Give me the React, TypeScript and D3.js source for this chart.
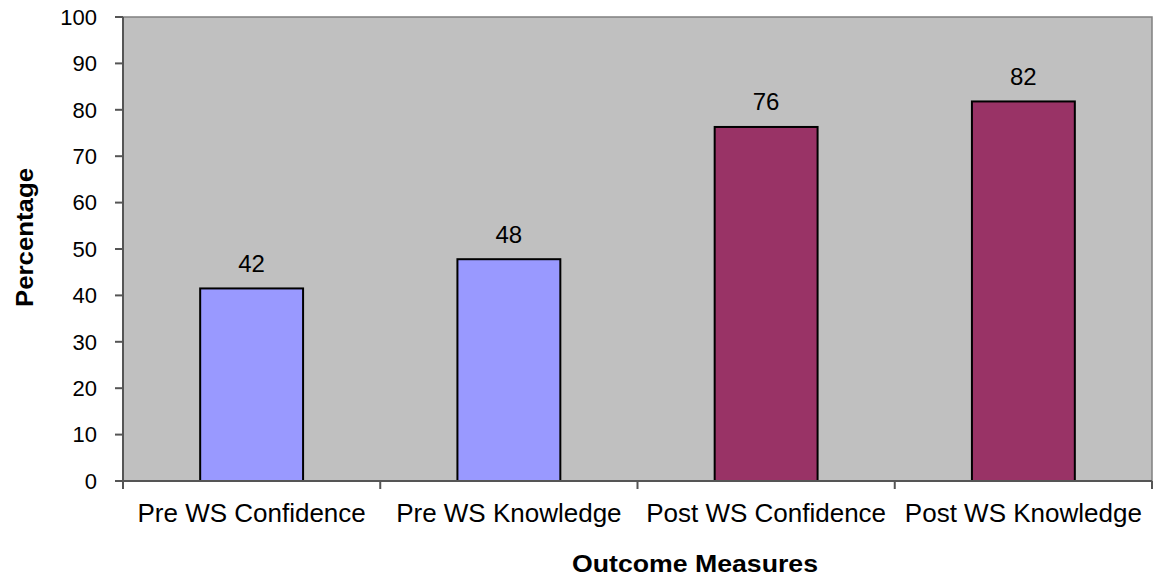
import React from "react";
import * as d3 from "d3";

const categories = ["Pre WS Confidence", "Pre WS Knowledge", "Post WS Confidence", "Post WS Knowledge"];
const values = [41.5, 47.8, 76.3, 81.8];
const barColors = ["#9999ff", "#9999ff", "#993366", "#993366"];
const yTicks = [0, 10, 20, 30, 40, 50, 60, 70, 80, 90, 100];

const W = 1154, H = 577;
const m = { left: 123, right: 2, top: 17, bottom: 96 };

export default function App() {
  const x = d3.scaleBand<string>().domain(categories).range([m.left, W - m.right]).paddingInner(0).paddingOuter(0);
  const y = d3.scaleLinear().domain([0, 100]).range([H - m.bottom, m.top]);
  const bw = x.bandwidth() * 0.4;
  const font = "'Liberation Sans', Arial, sans-serif";
  const y0 = y(0);
  const bounds = [...categories.map((c) => x(c)!), W - m.right];
  return (
    <svg width={W} height={H} style={{ position: "absolute", left: 0, top: 0 }} fontFamily={font}>
      <rect x={m.left} y={m.top} width={W - m.right - m.left} height={y0 - m.top} fill="#c0c0c0" stroke="#808080" strokeWidth={1.5} />
      {categories.map((c, i) => {
        const cx = x(c)! + x.bandwidth() / 2;
        return (
          <g key={c}>
            <rect x={cx - bw / 2} y={y(values[i])} width={bw} height={y0 - y(values[i])} fill={barColors[i]} stroke="#000" strokeWidth={2} />
            <text x={cx} y={y(values[i]) - 16.5} textAnchor="middle" fontSize={24} fill="#000">{Math.round(values[i])}</text>
            <text x={cx} y={522} textAnchor="middle" fontSize={26} fill="#000">{c}</text>
          </g>
        );
      })}
      <line x1={m.left} x2={m.left} y1={m.top} y2={y0 + 8} stroke="#555" strokeWidth={2} />
      <line x1={m.left - 8} x2={W - m.right} y1={y0} y2={y0} stroke="#555" strokeWidth={2} />
      {yTicks.map((t) => (
        <g key={t}>
          <line x1={m.left - 8} x2={m.left} y1={y(t)} y2={y(t)} stroke="#555" strokeWidth={2} />
          <text x={97} y={y(t)} dy="0.35em" textAnchor="end" fontSize={22} fill="#000">{t}</text>
        </g>
      ))}
      {bounds.map((b, i) => (
        <line key={i} x1={b} x2={b} y1={y0} y2={y0 + 8} stroke="#555" strokeWidth={2} />
      ))}
      <text x={695} y={572} textAnchor="middle" fontSize={24} fontWeight="bold" fill="#000" textLength={246} lengthAdjust="spacingAndGlyphs">Outcome Measures</text>
      <text transform={`translate(33,237.5) rotate(-90)`} textAnchor="middle" fontSize={24} fontWeight="bold" fill="#000" textLength={139} lengthAdjust="spacingAndGlyphs">Percentage</text>
    </svg>
  );
}
